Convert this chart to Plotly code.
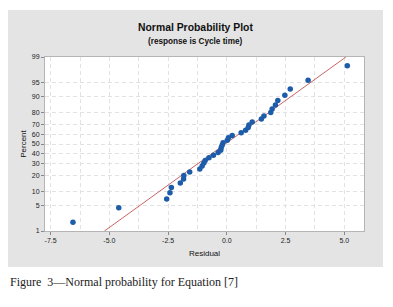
import plotly.graph_objects as go
from statistics import NormalDist

# ---- data ----
residual = [-6.55, -4.60, -2.56, -2.42, -2.36, -1.98, -1.84, -1.83, -1.58, -1.15,
            -1.05, -0.98, -0.92, -0.76, -0.57, -0.37, -0.26, -0.24, -0.20, -0.16,
            0.02, 0.07, 0.23, 0.61, 0.80, 0.91, 0.94, 1.08, 1.47, 1.58,
            1.87, 1.93, 2.07, 2.17, 2.47, 2.70, 3.46, 5.13]
percent = [1.82, 4.43, 7.03, 9.64, 12.24, 14.84, 17.45, 20.05, 22.66, 25.26,
           27.86, 30.47, 33.07, 35.68, 38.28, 40.89, 43.49, 46.09, 48.70, 51.30,
           53.91, 56.51, 59.11, 61.72, 64.32, 66.93, 69.53, 72.14, 74.74, 77.34,
           79.95, 82.55, 85.16, 87.76, 90.36, 92.97, 95.57, 98.18]
line_residual = [-5.21, 5.07]
line_percent = [1, 99]
y_ticks = [1, 5, 10, 20, 30, 40, 50, 60, 70, 80, 90, 95, 99]
x_ticks = [-7.5, -5.0, -2.5, 0.0, 2.5, 5.0]
x_tick_labels = ["-7.5", "-5.0", "-2.5", "0.0", "2.5", "5.0"]

nd = NormalDist()
def zscale(vals):
    return [nd.inv_cdf(v / 100.0) for v in vals]

fig = go.Figure()
fig.add_trace(go.Scatter(x=line_residual, y=zscale(line_percent), mode="lines",
                         line=dict(color="#c96464", width=1), hoverinfo="skip"))
fig.add_trace(go.Scatter(x=residual, y=zscale(percent), mode="markers",
                         marker=dict(color="#1d5ca8", size=5.5)))

# page body has an 8px margin, so the figure starts at page (8, 8)
OFF = 8
W, H = 377, 291
L, R, T, B = 37, 21, 49, 68
pw, ph = W - L - R, H - T - B
def px(x):  # page pixel -> paper
    return (x - OFF - L) / pw
def py(y):
    return (H - B - (y - OFF)) / ph

fig.add_shape(type="rect", xref="paper", yref="paper", layer="below",
              x0=px(8), x1=px(383), y0=py(267), y1=py(10),
              fillcolor="#e4e4e4", line=dict(width=0))
fig.add_shape(type="rect", xref="paper", yref="paper", layer="below",
              x0=0, x1=1, y0=0, y1=1, fillcolor="white", line=dict(width=0))

grid_c = "#e2e2e2"
tickfont = dict(family="Liberation Sans, Arial", size=7, color="#222")
fig.update_xaxes(range=[-7.74, 5.84], tickvals=x_ticks, ticktext=x_tick_labels,
                 showgrid=True, gridcolor=grid_c, griddash="4px,3px", gridwidth=1,
                 minor=dict(dtick=1.25, tick0=0, showgrid=True, gridcolor=grid_c,
                            griddash="4px,3px", ticks=""),
                 zeroline=False, showline=True, linecolor="#b5b5b5", linewidth=1,
                 mirror=True, ticks="outside", ticklen=3, tickcolor="#888",
                 tickfont=tickfont,
                 title=dict(text="Residual", font=dict(family="Liberation Sans, Arial",
                                                      size=8, color="#111"), standoff=6))
fig.update_yaxes(range=zscale([1, 99]), tickvals=zscale(y_ticks),
                 ticktext=[str(t) for t in y_ticks],
                 showgrid=True, gridcolor=grid_c, griddash="4px,3px", gridwidth=1,
                 zeroline=False, showline=True, linecolor="#b5b5b5", linewidth=1,
                 mirror=True, ticks="outside", ticklen=3, tickcolor="#888",
                 tickfont=tickfont,
                 title=dict(text="Percent", font=dict(family="Liberation Sans, Arial",
                                                     size=8, color="#111"), standoff=4))

fig.add_annotation(xref="paper", yref="paper", x=px(195), y=py(28), yanchor="middle",
                   text="<b>Normal Probability Plot</b>", showarrow=False,
                   font=dict(family="Liberation Sans, Arial", size=10.4, color="#111"))
fig.add_annotation(xref="paper", yref="paper", x=px(195), y=py(42), yanchor="middle",
                   text="<b>(response is Cycle time)</b>", showarrow=False,
                   font=dict(family="Liberation Sans, Arial", size=8.2, color="#111"))
fig.add_annotation(xref="paper", yref="paper", x=px(8), y=py(282), xanchor="left",
                   yanchor="middle",
                   text="Figure  3\u2014Normal probability for Equation [7]", showarrow=False,
                   font=dict(family="Liberation Serif, Times New Roman", size=12, color="#222"))

fig.update_layout(width=W, height=H, margin=dict(l=L, r=R, t=T, b=B),
                  paper_bgcolor="white", plot_bgcolor="rgba(0,0,0,0)",
                  showlegend=False)
fig.write_html("out.html")
